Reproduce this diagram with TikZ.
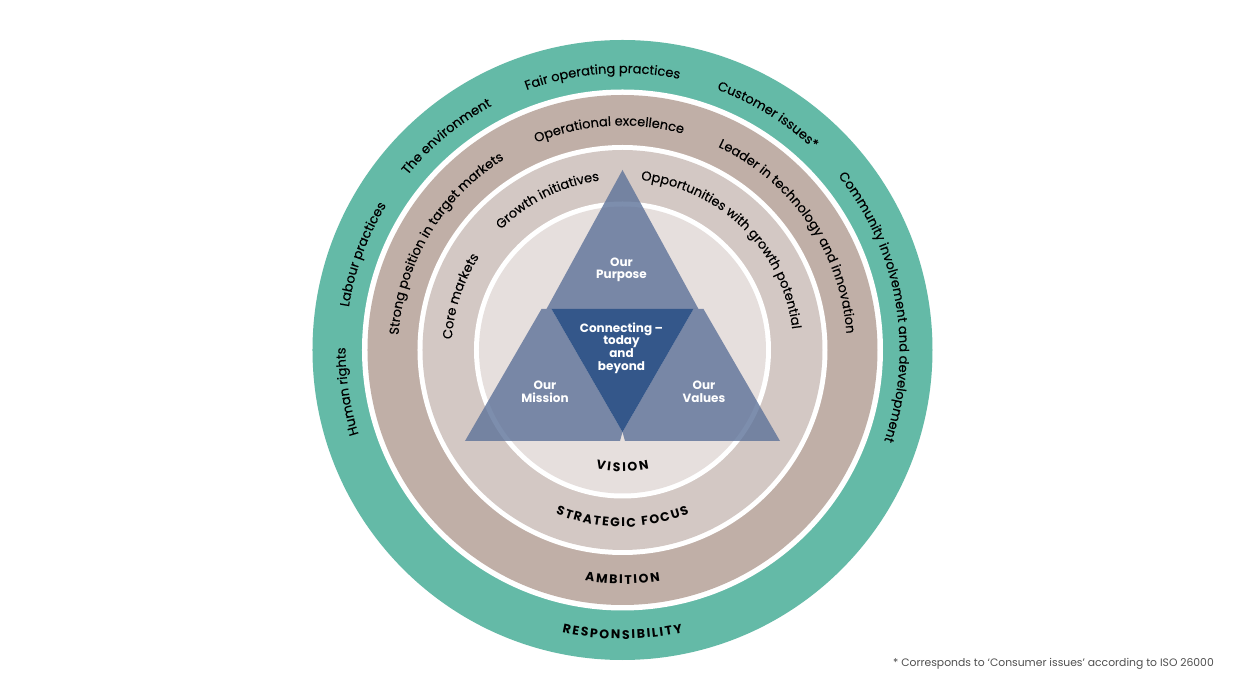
\documentclass[tikz,border=0pt]{standalone}
\usepackage{fontspec}
\setmainfont{Poppins}
\newfontfamily\ringfamily{Poppins}[FakeBold=0.25]
\usetikzlibrary{decorations.text}
\definecolor{ringgreen}{HTML}{64BAA7}
\definecolor{ringbrown}{HTML}{C0AFA7}
\definecolor{ringstrat}{HTML}{D3C8C4}
\definecolor{ringvision}{HTML}{E6DFDD}
\definecolor{triblue}{HTML}{5D7299}
\definecolor{darkblue}{HTML}{34578A}
\definecolor{notegray}{HTML}{505050}
\newsavebox{\letterbox}
\newcommand{\ringfnt}{\ringfamily\fontsize{13pt}{15pt}\selectfont}
\newcommand{\capfnt}{\bfseries\fontsize{12.5pt}{15pt}\selectfont}
\newcommand{\measurech}[1]{\pgfinterruptpicture\sbox{\letterbox}{\capfnt #1}\xdef\lw{\the\wd\letterbox}\endpgfinterruptpicture}
% clockwise text (letters upright outward): radius, centre angle, half span, text
\newcommand{\cwtext}[4]{%
  \path[decorate, decoration={text along path, text={|\ringfnt|#4}, text align=center}]
    ({#2+#3}:#1pt) arc[start angle={#2+#3}, end angle={#2-#3}, radius=#1pt];}
% tracked capitals along the bottom of a circle (upright inward)
% #1 radius, #2 centre angle, #3 tracking (pt), #4 name prefix, #5 letters (comma list, ~ = space)
\newcommand{\arcword}[5]{%
  \xdef\totw{0}%
  \foreach \ch in {#5}{\measurech{\ch}%
    \pgfmathsetmacro{\tmp}{\totw+\lw+#3}\xdef\totw{\tmp}}%
  \pgfmathsetmacro{\tmp}{\totw-#3}\xdef\totw{\tmp}%
  \xdef\cum{0}%
  \foreach \ch [count=\k] in {#5}{%
    \measurech{\ch}%
    \pgfmathsetmacro{\ang}{#2+((\cum+\lw/2)-\totw/2)/#1*180/pi}%
    \pgfmathsetmacro{\tmp}{\cum+\lw+#3}\xdef\cum{\tmp}%
    \node[inner sep=0pt, anchor=base, rotate=\ang-270, font=\capfnt] (#4\k) at (\ang:#1pt) {\ch};}%
}
\begin{document}
\begin{tikzpicture}[x=1pt,y=1pt,
  tritext/.style={text=white, font=\bfseries\fontsize{12pt}{12.6pt}\selectfont, align=center, inner sep=0pt},
  tri/.style={fill=triblue, fill opacity=0.8},
  note/.style={text=notegray, font=\fontsize{10.8pt}{12pt}\selectfont, inner sep=0pt, anchor=west}]
\fill[white] (-622.5,-348) rectangle (617.5,350);
\useasboundingbox (-622.5,-348) rectangle (617.5,350);
% rings
\fill[ringgreen] (0,0) circle[radius=310pt];
\fill[white] (0,0) circle[radius=260.5pt];
\fill[ringbrown] (0,0) circle[radius=255pt];
\fill[white] (0,0) circle[radius=205pt];
\fill[ringstrat] (0,0) circle[radius=200pt];
\fill[white] (0,0) circle[radius=148.5pt];
\fill[ringvision] (0,0) circle[radius=143.5pt];
% responsibility ring
\cwtext{277}{188.6}{40}{Human rights}
\cwtext{277}{159.8}{40}{Labour practices}
\cwtext{277}{129.5}{40}{The environment}
\cwtext{277}{94.2}{50}{Fair operating practices}
\cwtext{277}{58.3}{40}{Customer issues*}
\cwtext{277}{9.9}{60}{Community involvement and development}
\arcword{289}{270}{1.8}{resp}{R,E,S,P,O,N,S,I,B,I,L,I,T,Y}
% ambition ring
\cwtext{224.5}{149}{60}{Strong position in target markets}
\cwtext{224.5}{93.5}{50}{Operational excellence}
\cwtext{224.5}{34.5}{60}{Leader in technology and innovation}
\arcword{234}{270}{1.8}{amb}{A,M,B,I,T,I,O,N}
% strategic focus ring
\cwtext{171}{161.7}{40}{Core markets}
\cwtext{171}{116.5}{50}{Growth initiatives}
\cwtext{171}{45.4}{70}{Opportunities with growth potential}
\arcword{177}{270}{1.6}{strat}{S,T,R,A,T,E,G,I,C,~,F,O,C,U,S}
% vision
\arcword{121.5}{270}{2}{vis}{V,I,S,I,O,N}
% triangles
\fill[tri] (0,180) -- (-76,41) -- (76,41) -- cycle;
\fill[tri] (-157.5,-91) -- (-81,41) -- (-71,41) -- (0,-82) -- (-2.5,-91) -- cycle;
\fill[tri] (157.5,-91) -- (81,41) -- (71,41) -- (0,-82) -- (2.5,-91) -- cycle;
\fill[darkblue] (-71,41) -- (71,41) -- (0,-82) -- cycle;
\node[tritext] (purpose) at (-1,80) {Our\\Purpose};
\node[tritext] (connect) at (-1,2) {Connecting –\\today\\and\\beyond};
\node[tritext] (mission) at (-77.5,-41.5) {Our\\Mission};
\node[tritext] (values) at (81.5,-41.5) {Our\\Values};
\node[note] (footnote) at (270.5,-314) {* Corresponds to ‘Consumer issues’ according to ISO 26000};
\end{tikzpicture}
\end{document}
